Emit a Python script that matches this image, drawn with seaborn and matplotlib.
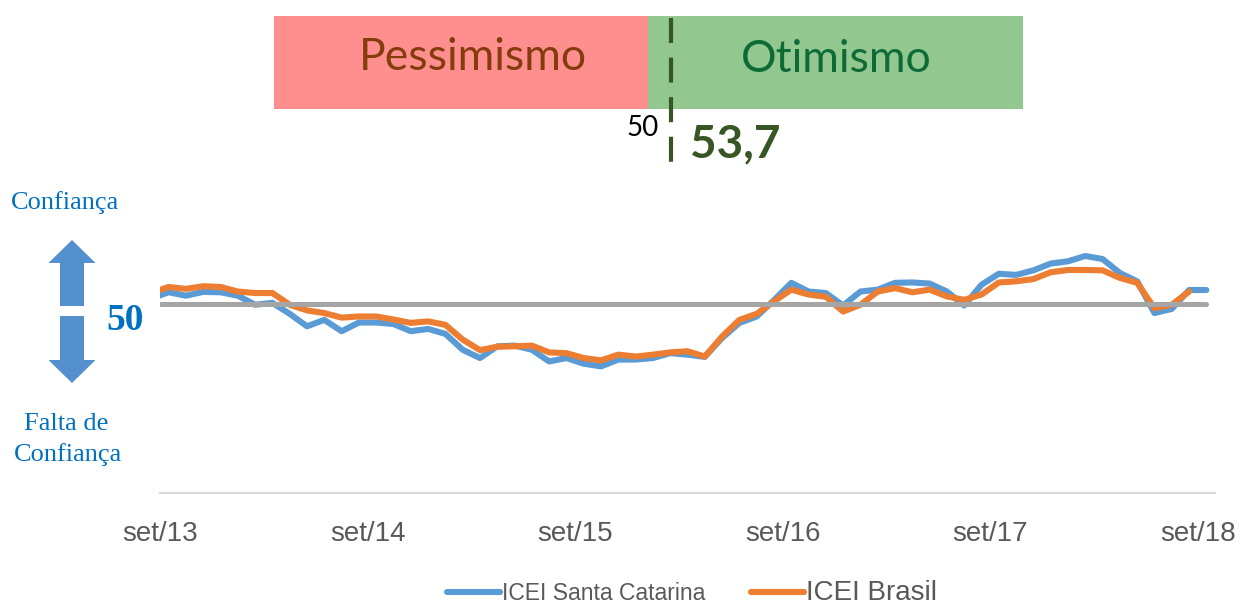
import numpy as np
import pandas as pd
import matplotlib.pyplot as plt
import seaborn as sns
from matplotlib.lines import Line2D
from matplotlib.patches import Rectangle, FancyArrow

# ICEI mensal (set/13 .. set/18)
icei_sc = [51.5, 53.1, 52.2, 53.2, 53.1, 52.2, 49.8, 50.3, 47.4, 44.1,
           45.8, 42.8, 45.1, 45.1, 44.7, 42.8, 43.4, 42.1, 37.9, 35.7,
           38.8, 39.0, 37.9, 34.8, 35.7, 34.2, 33.5, 35.3, 35.3, 35.7,
           37.0, 36.6, 36.0, 41.0, 45.0, 46.7, 51.0, 55.6, 53.3, 52.9,
           49.6, 53.3, 53.8, 55.6, 55.7, 55.4, 53.3, 49.6, 55.1, 58.0,
           57.7, 58.9, 60.7, 61.3, 62.7, 61.9, 58.2, 56.0, 47.6, 48.7,
           53.7, 53.7]
icei_br = [53.0, 54.5, 54.0, 54.7, 54.5, 53.3, 52.9, 52.9, 49.8, 48.3,
           47.6, 46.4, 46.7, 46.7, 45.9, 45.0, 45.4, 44.5, 40.6, 37.8,
           38.7, 38.8, 39.0, 37.2, 37.0, 35.7, 35.1, 36.6, 36.1, 36.6,
           37.2, 37.5, 36.1, 41.4, 45.8, 47.4, 50.7, 53.8, 52.5, 51.9,
           48.0, 49.8, 53.3, 54.2, 53.1, 53.8, 52.0, 51.1, 52.5, 55.7,
           56.0, 56.6, 58.4, 59.0, 59.0, 58.9, 56.9, 55.6, 48.9, 49.8,
           53.3]
series = ["ICEI Santa Catarina", "ICEI Brasil"]
rotulos_x = ["set/13", "set/14", "set/15", "set/16", "set/17", "set/18"]
linha_base = 50
valor_atual = "53,7"

cores = {"ICEI Santa Catarina": "#5B9BD5", "ICEI Brasil": "#ED7D31"}

sns.set_style("white")
plt.rcParams["font.family"] = ["Liberation Sans", "DejaVu Sans"]

df = pd.concat([
    pd.DataFrame({"mes": np.arange(len(icei_sc)), "valor": icei_sc, "serie": series[0]}),
    pd.DataFrame({"mes": np.arange(len(icei_br)), "valor": icei_br, "serie": series[1]}),
])

W, H = 1246, 606
fig = plt.figure(figsize=(W / 100, H / 100), dpi=100)
ax = fig.add_axes([160 / W, (H - 493) / H, (1215 - 160) / W, 70 * 3.78 / H])

sns.lineplot(data=df, x="mes", y="valor", hue="serie", hue_order=series,
             palette=cores, linewidth=4.4, legend=False, sort=False, ax=ax)
for ln in ax.get_lines():
    ln.set_solid_joinstyle("round")
    ln.set_solid_capstyle("round")

base = ax.hlines(linha_base, 0, len(icei_sc) - 1, colors="#A5A5A5", linewidth=3.6, zorder=5)
base.set_capstyle("round")

ax.set_xlim(0.5, 61.5)
ax.set_ylim(0, 70)
ax.set_xticks([0.5 + 12 * i for i in range(len(rotulos_x))], labels=rotulos_x)
ax.set_yticks([])
ax.set_xlabel("")
ax.set_ylabel("")
for s in ["left", "right", "top"]:
    ax.spines[s].set_visible(False)
ax.spines["bottom"].set_color("#D9D9D9")
ax.spines["bottom"].set_linewidth(1.5)
ax.tick_params(axis="x", length=9, width=1.5, color="#D9D9D9",
               labelcolor="#595959", pad=11, labelsize=20)

# legenda
handles = [Line2D([], [], color=cores[s], linewidth=4.4, solid_capstyle="round") for s in series]
leg = ax.legend(handles, series, loc="center", bbox_to_anchor=(692 / W, 1 - 593 / H),
                bbox_transform=fig.transFigure, ncol=2, frameon=False, fontsize=16.5,
                handlelength=2.3, handletextpad=0.1, columnspacing=2.0)
for i, t in enumerate(leg.get_texts()):
    t.set_color("#595959")
    if i == 1:
        t.set_fontsize(20)

# camada de anotacoes em pixels
ov = fig.add_axes([0, 0, 1, 1])
ov.set_xlim(0, W)
ov.set_ylim(H, 0)
ov.axis("off")

ov.add_patch(Rectangle((274, 16), 374, 93, color="#FF8F8F", lw=0))
ov.add_patch(Rectangle((648, 16), 375, 93, color="#92C78F", lw=0))
ov.text(473, 58, "Pessimismo", color="#843C0C", fontsize=32, family="Lato",
        ha="center", va="center")
ov.text(836, 60, "Otimismo", color="#0E6B35", fontsize=32, family="Lato",
        ha="center", va="center")
ov.plot([671, 671], [18, 173], color="#375623", lw=3, dashes=(6, 3.5))
ov.text(643, 128, str(linha_base), color="black", fontsize=20, family="Lato",
        ha="center", va="center")
ov.text(735, 144, valor_atual, color="#375623", fontsize=33, family="Lato",
        fontweight="bold", ha="center", va="center")

azul = "#0070C0"
ov.text(65, 203, "Confiança", color=azul, fontsize=19, family="Liberation Serif",
        ha="center", va="center")
ov.text(66, 424, "Falta de", color=azul, fontsize=19, family="Liberation Serif",
        ha="center", va="center")
ov.text(68, 455, "Confiança", color=azul, fontsize=19, family="Liberation Serif",
        ha="center", va="center")
ov.text(125, 321, str(linha_base), color=azul, fontsize=27, family="Liberation Serif",
        fontweight="bold", ha="center", va="center")
ov.add_patch(FancyArrow(72, 306, 0, -66, width=24, head_width=47, head_length=23,
                        length_includes_head=True, color="#5490CE", lw=0))
ov.add_patch(FancyArrow(72, 316, 0, 67, width=24, head_width=47, head_length=23,
                        length_includes_head=True, color="#5490CE", lw=0))

fig.savefig("out.png", dpi=100)
